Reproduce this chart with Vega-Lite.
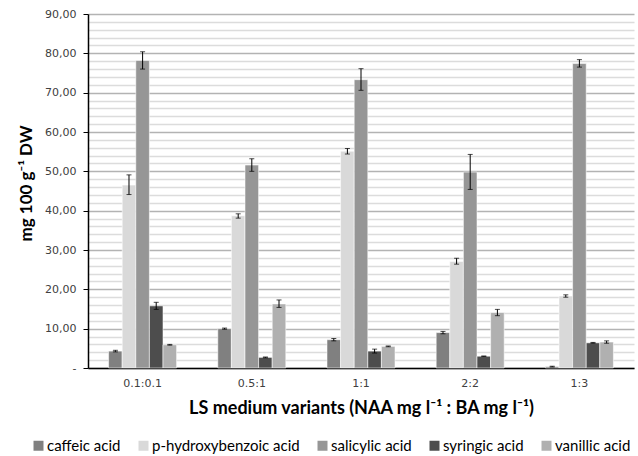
{
  "$schema": "https://vega.github.io/schema/vega-lite/v6.json",
  "width": 546,
  "height": 354,
  "autosize": "none",
  "padding": {"left": 88, "top": 14, "right": 4, "bottom": 88},
  "background": "white",
  "config": {
    "view": {"stroke": null},
    "font": "Lato"
  },
  "data": {
    "values": [
      {"variant": "0.1:0.1", "acid": "caffeic acid", "value": 4.3, "lo": 4.1, "hi": 4.5},
      {"variant": "0.1:0.1", "acid": "p-hydroxybenzoic acid", "value": 46.5, "lo": 44.1, "hi": 49.1},
      {"variant": "0.1:0.1", "acid": "salicylic acid", "value": 78.2, "lo": 76.0, "hi": 80.4},
      {"variant": "0.1:0.1", "acid": "syringic acid", "value": 15.8, "lo": 14.9, "hi": 16.7},
      {"variant": "0.1:0.1", "acid": "vanillic acid", "value": 5.9, "lo": 5.8, "hi": 6.0},
      {"variant": "0.5:1", "acid": "caffeic acid", "value": 10.0, "lo": 9.85, "hi": 10.15},
      {"variant": "0.5:1", "acid": "p-hydroxybenzoic acid", "value": 38.7, "lo": 38.1, "hi": 39.2},
      {"variant": "0.5:1", "acid": "salicylic acid", "value": 51.6, "lo": 50.0, "hi": 53.2},
      {"variant": "0.5:1", "acid": "syringic acid", "value": 2.7, "lo": 2.6, "hi": 2.8},
      {"variant": "0.5:1", "acid": "vanillic acid", "value": 16.3, "lo": 15.4, "hi": 17.3},
      {"variant": "1:1", "acid": "caffeic acid", "value": 7.2, "lo": 6.9, "hi": 7.5},
      {"variant": "1:1", "acid": "p-hydroxybenzoic acid", "value": 55.1, "lo": 54.4, "hi": 55.8},
      {"variant": "1:1", "acid": "salicylic acid", "value": 73.3, "lo": 70.6, "hi": 76.1},
      {"variant": "1:1", "acid": "syringic acid", "value": 4.3, "lo": 3.8, "hi": 4.8},
      {"variant": "1:1", "acid": "vanillic acid", "value": 5.5, "lo": 5.4, "hi": 5.6},
      {"variant": "2:2", "acid": "caffeic acid", "value": 9.0, "lo": 8.7, "hi": 9.3},
      {"variant": "2:2", "acid": "p-hydroxybenzoic acid", "value": 27.1, "lo": 26.4, "hi": 27.9},
      {"variant": "2:2", "acid": "salicylic acid", "value": 49.8, "lo": 45.4, "hi": 54.3},
      {"variant": "2:2", "acid": "syringic acid", "value": 3.0, "lo": 2.95, "hi": 3.05},
      {"variant": "2:2", "acid": "vanillic acid", "value": 14.1, "lo": 13.3, "hi": 14.9},
      {"variant": "1:3", "acid": "caffeic acid", "value": 0.35, "lo": 0.25, "hi": 0.45},
      {"variant": "1:3", "acid": "p-hydroxybenzoic acid", "value": 18.3, "lo": 18.0, "hi": 18.6},
      {"variant": "1:3", "acid": "salicylic acid", "value": 77.4, "lo": 76.5, "hi": 78.4},
      {"variant": "1:3", "acid": "syringic acid", "value": 6.4, "lo": 6.3, "hi": 6.5},
      {"variant": "1:3", "acid": "vanillic acid", "value": 6.6, "lo": 6.3, "hi": 6.9}
    ]
  },
  "encoding": {
    "x": {
      "field": "variant", "type": "nominal",
      "sort": ["0.1:0.1", "0.5:1", "1:1", "2:2", "1:3"],
      "scale": {"paddingInner": 0.377, "paddingOuter": 0.1885},
      "axis": {
        "labelAngle": 0, "ticks": false, "domainColor": "#000000", "domainWidth": 1.5,
        "labelFont": "DejaVu Sans", "labelFontSize": 11, "labelColor": "#404040", "labelPadding": 9,
        "title": "LS medium variants (NAA mg l⁻¹ : BA mg l⁻¹)",
        "titleFont": "Lato", "titleFontSize": 18, "titleFontWeight": "bold", "titleColor": "#000000", "titlePadding": 11
      }
    },
    "xOffset": {
      "field": "acid", "type": "nominal",
      "sort": ["caffeic acid", "p-hydroxybenzoic acid", "salicylic acid", "syringic acid", "vanillic acid"],
      "scale": {"paddingInner": 0, "paddingOuter": 0}
    }
  },
  "layer": [
    {
      "mark": {"type": "bar", "stroke": "#ffffff", "strokeWidth": 0.8, "strokeOpacity": 0.7},
      "encoding": {
        "y": {
          "field": "value", "type": "quantitative",
          "scale": {"domain": [0, 90], "nice": false},
          "axis": {
            "values": [0,2,4,6,8,10,12,14,16,18,20,22,24,26,28,30,32,34,36,38,40,42,44,46,48,50,52,54,56,58,60,62,64,66,68,70,72,74,76,78,80,82,84,86,88,90],
            "tickCount": 200,
            "labelOverlap": false, "labelBound": false, "labelFlush": false,
            "labelExpr": "datum.value % 10 !== 0 ? '' : (datum.value === 0 ? '-' : replace(format(datum.value, '.2f'), '.', ','))",
            "labelFont": "DejaVu Sans", "labelFontSize": 11, "labelColor": "#404040", "labelPadding": 7,
            "domainColor": "#000000", "domainWidth": 1.5,
            "tickColor": "#000000", "tickSize": 5,
            "tickOpacity": {"condition": {"test": "datum.value % 10 === 0", "value": 1}, "value": 0},
            "grid": true,
            "gridColor": {"condition": {"test": "datum.value % 10 === 0", "value": "#b3b3b3"}, "value": "#dcdcdc"},
            "gridWidth": 1.3,
            "title": "mg 100 g⁻¹ DW",
            "titleFont": "Lato", "titleFontSize": 17, "titleFontWeight": "bold", "titleColor": "#000000", "titlePadding": 9,
            "titleY": 169
          }
        },
        "color": {
          "field": "acid", "type": "nominal",
          "sort": ["caffeic acid", "p-hydroxybenzoic acid", "salicylic acid", "syringic acid", "vanillic acid"],
          "scale": {
            "domain": ["caffeic acid", "p-hydroxybenzoic acid", "salicylic acid", "syringic acid", "vanillic acid"],
            "range": ["#808080", "#d9d9d9", "#969696", "#4d4d4d", "#b0b0b0"]
          },
          "legend": {
            "orient": "none", "direction": "horizontal", "columns": 5,
            "legendX": -57, "legendY": 424,
            "title": null, "symbolType": "square", "symbolSize": 100, "symbolStrokeWidth": 0,
            "labelFont": "Lato", "labelFontSize": 15, "labelColor": "#000000", "labelOffset": 1,
            "columnPadding": 15, "labelLimit": 300
          }
        }
      }
    },
    {
      "mark": {"type": "rule", "color": "#000000", "strokeWidth": 1},
      "encoding": {
        "y": {"field": "lo", "type": "quantitative"},
        "y2": {"field": "hi"}
      }
    },
    {
      "mark": {"type": "tick", "color": "#000000", "size": 5, "thickness": 1},
      "encoding": {"y": {"field": "lo", "type": "quantitative"}}
    },
    {
      "mark": {"type": "tick", "color": "#000000", "size": 5, "thickness": 1},
      "encoding": {"y": {"field": "hi", "type": "quantitative"}}
    }
  ]
}
